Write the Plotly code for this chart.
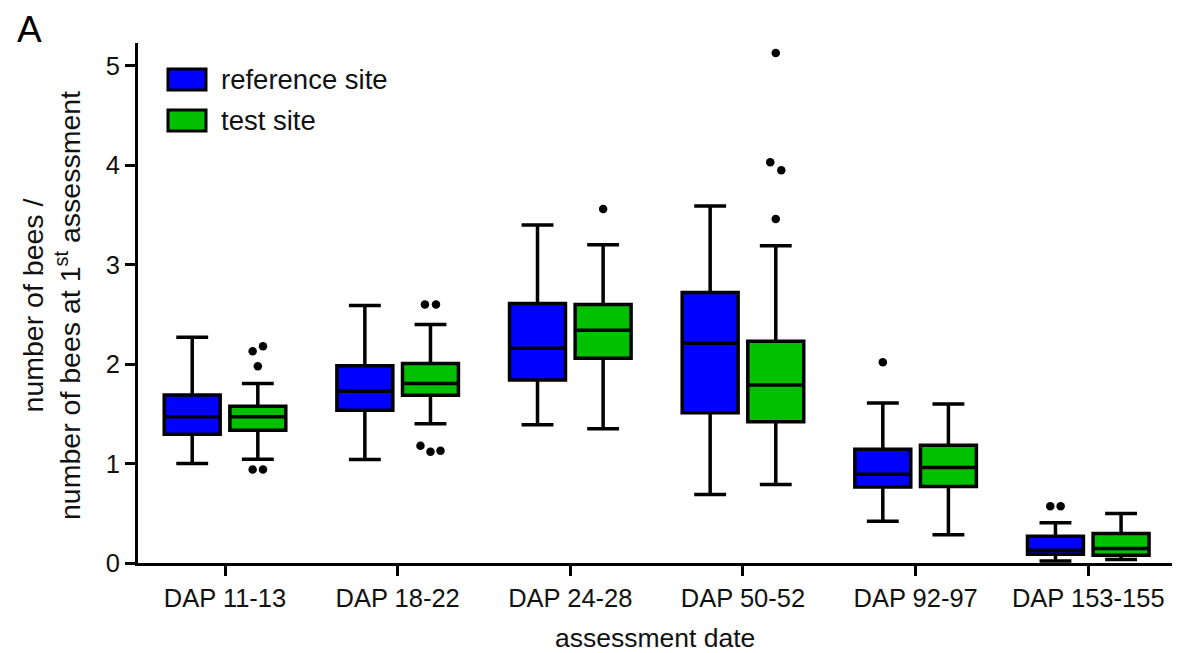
import plotly.graph_objects as go

# Assessment dates (days after planting)
categories = ["DAP 11-13", "DAP 18-22", "DAP 24-28", "DAP 50-52", "DAP 92-97", "DAP 153-155"]
site_names = ["reference site", "test site"]

# Box statistics: number of bees relative to the 1st assessment
ref_lower = [1.00, 1.04, 1.39, 0.69, 0.42, 0.02]
ref_q1 = [1.295, 1.536, 1.84, 1.51, 0.765, 0.088]
ref_median = [1.47, 1.727, 2.16, 2.21, 0.892, 0.128]
ref_q3 = [1.69, 1.985, 2.61, 2.72, 1.144, 0.27]
ref_upper = [2.27, 2.59, 3.40, 3.59, 1.61, 0.406]

test_lower = [1.043, 1.40, 1.35, 0.79, 0.285, 0.035]
test_q1 = [1.335, 1.687, 2.06, 1.42, 0.77, 0.077]
test_median = [1.47, 1.805, 2.34, 1.79, 0.96, 0.145]
test_q3 = [1.577, 2.006, 2.60, 2.23, 1.184, 0.296]
test_upper = [1.805, 2.40, 3.20, 3.19, 1.60, 0.497]

# Outliers: (category index, value)
ref_out_cat = [4, 5, 5]
ref_out_val = [2.02, 0.57, 0.57]
test_out_cat = [0, 0, 0, 0, 0, 1, 1, 1, 1, 1, 2, 3, 3, 3, 3]
test_out_val = [2.18, 2.13, 1.98, 0.94, 0.94, 2.60, 2.60, 1.18, 1.12, 1.13, 3.56, 5.13, 4.03, 3.95, 3.46]

# Styling / layout
BLUE = "#0000FF"
GREEN = "#00C000"
FONT = "Liberation Sans, Arial, sans-serif"
SHIFT = 0.19          # box centre offset from the category tick
BOX_W = 0.324         # box width in category units
ref_dodge = [0.0, -0.03, 0.03]
test_dodge = [0.03, -0.03, 0.0, -0.03, 0.03, -0.032, 0.032, -0.058, 0.0, 0.058, 0.0, 0.0, -0.032, 0.032, 0.0]

idx = list(range(len(categories)))
fig = go.Figure()

for name, color, sgn, lo, q1, med, q3, up in [
    (site_names[0], BLUE, -1, ref_lower, ref_q1, ref_median, ref_q3, ref_upper),
    (site_names[1], GREEN, 1, test_lower, test_q1, test_median, test_q3, test_upper),
]:
    fig.add_trace(go.Box(
        name=name,
        x=[i + sgn * SHIFT for i in idx],
        q1=q1, median=med, q3=q3, lowerfence=lo, upperfence=up,
        width=BOX_W, whiskerwidth=0.57,
        fillcolor=color, line=dict(color="black", width=3.5),
        boxpoints=False, orientation="v", showlegend=False,
        hoverinfo="skip",
    ))

for cats, vals, dodge, sgn in [
    (ref_out_cat, ref_out_val, ref_dodge, -1),
    (test_out_cat, test_out_val, test_dodge, 1),
]:
    fig.add_trace(go.Scatter(
        x=[c + sgn * SHIFT + d for c, d in zip(cats, dodge)],
        y=vals, mode="markers",
        marker=dict(color="black", size=8.5),
        showlegend=False, hoverinfo="skip",
    ))

# Plot area geometry (paper fractions)
L, R, T, B = 138, 6, 43, 90
W, H = 1178, 653
pw, ph = W - L - R, H - T - B


def px(xp):
    return (xp - L) / pw


def py(yp):
    return (H - B - yp) / ph


# Legend drawn as swatches + labels
shapes = []
annotations = []
for (y0, y1, ytxt), color, label in [((69, 90, 80), BLUE, site_names[0]), ((110, 131, 120), GREEN, site_names[1])]:
    shapes.append(dict(type="rect", xref="paper", yref="paper",
                       x0=px(168), x1=px(206), y0=py(y1), y1=py(y0),
                       fillcolor=color, line=dict(color="black", width=3)))
    annotations.append(dict(text=label, xref="paper", yref="paper",
                            x=px(219), y=py(ytxt), xanchor="left", yanchor="middle",
                            showarrow=False, font=dict(size=27.5, color="#111", family=FONT)))

annotations.append(dict(text="A", xref="paper", yref="paper", x=px(29), y=py(29),
                        xanchor="center", yanchor="middle", showarrow=False,
                        font=dict(size=37, color="black", family=FONT)))
annotations.append(dict(text="number of bees /<br>number of bees at 1<sup>st</sup> assessment",
                        xref="paper", yref="paper", x=px(51), y=py(306),
                        xanchor="center", yanchor="middle", textangle=-90, showarrow=False,
                        font=dict(size=28.5, color="#111", family=FONT)))
annotations.append(dict(text="assessment date", xref="paper", yref="paper",
                        x=px(655), y=py(638), xanchor="center", yanchor="middle",
                        showarrow=False, font=dict(size=26.5, color="#111", family=FONT)))

fig.update_layout(
    width=W, height=H,
    margin=dict(l=L, r=R, t=T, b=B),
    paper_bgcolor="white", plot_bgcolor="white",
    font=dict(family=FONT, color="#111"),
    shapes=shapes, annotations=annotations,
    showlegend=False,
)
fig.update_xaxes(
    range=[-0.504, 5.485], tickvals=idx, ticktext=categories,
    showgrid=False, zeroline=False, showline=True, linecolor="black", linewidth=3,
    ticks="outside", ticklen=10, tickwidth=3, tickcolor="black",
    tickfont=dict(size=25.5, color="#111", family=FONT),
)
fig.update_yaxes(
    range=[0, 5.23], tickvals=[0, 1, 2, 3, 4, 5],
    showgrid=False, zeroline=False, showline=True, linecolor="black", linewidth=3,
    ticks="outside", ticklen=10, tickwidth=3, tickcolor="black",
    tickfont=dict(size=25.5, color="#111", family=FONT),
)

fig.write_html("out.html")
